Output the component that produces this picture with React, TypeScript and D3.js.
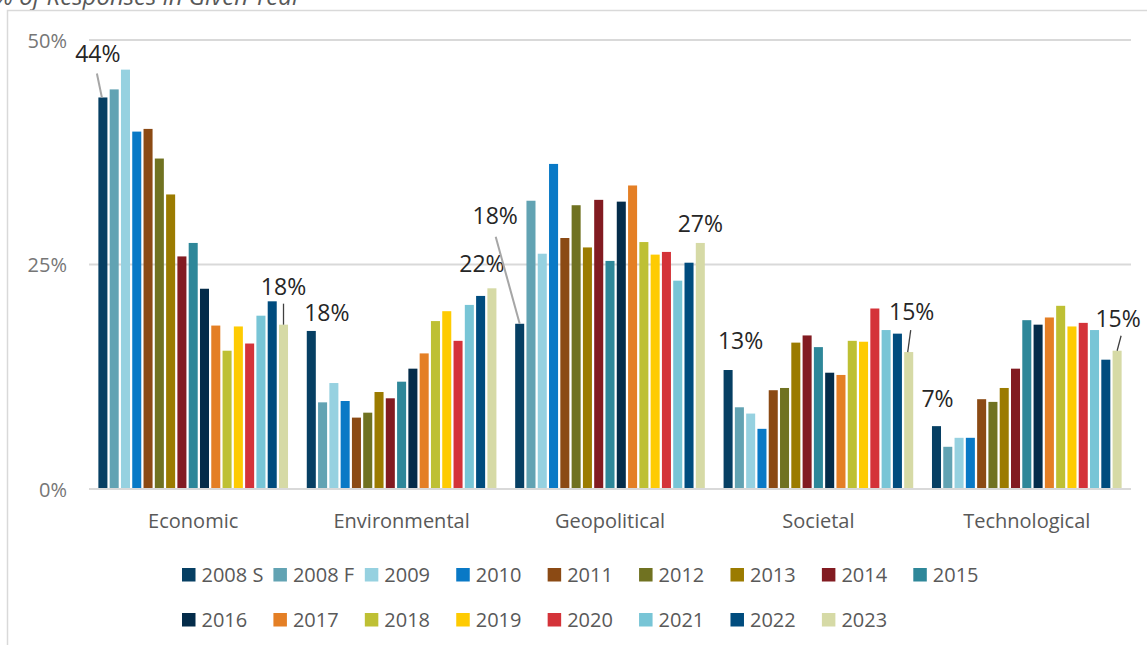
import React from "react";
import * as d3 from "d3";

const categories = ["Economic", "Environmental", "Geopolitical", "Societal", "Technological"];
const years = ["2008 S", "2008 F", "2009", "2010", "2011", "2012", "2013", "2014", "2015", "2016", "2017", "2018", "2019", "2020", "2021", "2022", "2023"];
const yearColors = ["#063F63", "#62A3B3", "#96D1E0", "#0979C6", "#8B4A14", "#707221", "#9B7B00", "#821B21", "#2E8799", "#042C4A", "#E47F25", "#BEC034", "#FECB02", "#D43339", "#78C5D6", "#004C7E", "#D6DAA6"];

const economic = [43.6, 44.5, 46.7, 39.8, 40.1, 36.8, 32.8, 25.9, 27.4, 22.3, 18.2, 15.4, 18.1, 16.2, 19.3, 20.9, 18.3];
const environmental = [17.6, 9.65, 11.8, 9.8, 7.95, 8.5, 10.8, 10.1, 11.95, 13.4, 15.1, 18.7, 19.8, 16.5, 20.5, 21.5, 22.35];
const geopolitical = [18.4, 32.1, 26.2, 36.2, 27.95, 31.6, 26.9, 32.2, 25.4, 32.0, 33.8, 27.5, 26.1, 26.4, 23.2, 25.2, 27.4];
const societal = [13.25, 9.1, 8.4, 6.7, 11.0, 11.25, 16.3, 17.1, 15.8, 12.95, 12.7, 16.5, 16.4, 20.1, 17.7, 17.3, 15.25];
const technological = [7.0, 4.7, 5.7, 5.7, 10.0, 9.7, 11.25, 13.4, 18.8, 18.3, 19.1, 20.4, 18.1, 18.5, 17.7, 14.4, 15.4];
const seriesByCategory = [economic, environmental, geopolitical, societal, technological];

const yTicks = [0, 25, 50];
const titleText = "% of Responses in Given Year";

// labelled bars: [category index, year index]
const labelled: [number, number][] = [[0, 0], [0, 16], [1, 0], [1, 16], [2, 0], [2, 16], [3, 0], [3, 16], [4, 0], [4, 16]];
// layout of the data labels (offset from bar top centre) and leader lines
const labelLayout = [
  { dx: -5, dy: -35, leader: { sx: -1, sy: 11, ex: -1, col: "#A6A6A6", w: 2 } },
  { dx: 0, dy: -30, leader: { sx: 0, sy: 9, ex: 0, col: "#404040", w: 1.3 } },
  { dx: 15.5, dy: -10, leader: null },
  { dx: -10, dy: -16, leader: null },
  { dx: -24.5, dy: -100, leader: { sx: 0.5, sy: 13, ex: 0, col: "#A6A6A6", w: 2 } },
  { dx: 0, dy: -11, leader: null },
  { dx: 12.5, dy: -21, leader: null },
  { dx: 3, dy: -32, leader: { sx: -1, sy: 10, ex: -1, col: "#404040", w: 1.3 } },
  { dx: 1, dy: -19, leader: null },
  { dx: 1, dy: -24, leader: { sx: 3, sy: 9, ex: 0, col: "#404040", w: 1.3 } },
];

const W = 1147;
const H = 645;
const FONT = "'Open Sans', sans-serif";

export default function App() {
  const x0 = d3.scaleBand<string>().domain(categories).range([89, 1131]).paddingInner(0.09).paddingOuter(0.045);
  const x1 = d3.scaleBand<string>().domain(years).range([0, x0.bandwidth()]).paddingInner(0.2).paddingOuter(0);
  const y = d3.scaleLinear().domain([0, 50]).range([489, 40]);
  const legendX = d3.scaleLinear().domain([0, 8]).range([182, 913.3]);
  const legendRowY = [568, 613];

  return (
    <svg width={W} height={H} style={{ position: "absolute", left: 0, top: 0, background: "#fff" }} fontFamily={FONT}>
      <rect x={0} y={0} width={W} height={H} fill="#fff" />
      <text x={-6} y={4.5} fontSize={24} fontStyle="italic" fill="#595959">{titleText}</text>
      <path d={`M7.5,${H + 5}V10.5H${W + 5}`} fill="none" stroke="#D9D9D9" strokeWidth={1.5} />

      {yTicks.map((t) => (
        <g key={t}>
          <line x1={89} x2={1131} y1={y(t)} y2={y(t)} stroke="#D9D9D9" strokeWidth={2} />
          <text x={67} y={y(t) + 7.5} textAnchor="end" fontSize={20} fill="#767676">{t}%</text>
        </g>
      ))}

      {categories.map((c, ci) => (
        <g key={c} transform={`translate(${x0(c)},0)`}>
          {seriesByCategory[ci].map((v, yi) => (
            <rect key={yi} x={x1(years[yi])} y={y(v)} width={x1.bandwidth()} height={y(0) - y(v)} fill={yearColors[yi]} />
          ))}
        </g>
      ))}
      <line x1={89} x2={1131} y1={y(0)} y2={y(0)} stroke="#D9D9D9" strokeWidth={2} />

      {categories.map((c) => (
        <text key={c} x={(x0(c) as number) + x0.bandwidth() / 2} y={528} textAnchor="middle" fontSize={20} fill="#595959">{c}</text>
      ))}

      {labelled.map(([ci, yi], i) => {
        const v = seriesByCategory[ci][yi];
        const bx = (x0(categories[ci]) as number) + (x1(years[yi]) as number) + x1.bandwidth() / 2;
        const by = y(v);
        const L = labelLayout[i];
        const lx = bx + L.dx;
        const ly = by + L.dy;
        return (
          <g key={i}>
            {L.leader && (
              <line x1={lx + L.leader.sx} y1={ly + L.leader.sy} x2={bx + L.leader.ex} y2={by} stroke={L.leader.col} strokeWidth={L.leader.w} />
            )}
            <text x={lx} y={ly} textAnchor="middle" fontSize={23} fill="#262626">{Math.round(v)}%</text>
          </g>
        );
      })}

      {years.map((yr, i) => {
        const row = i < 9 ? 0 : 1;
        const col = row === 0 ? i : i - 9;
        const lx = legendX(col);
        const ly = legendRowY[row];
        return (
          <g key={yr}>
            <rect x={lx} y={ly} width={13.5} height={13.5} fill={yearColors[i]} />
            <text x={lx + 19.5} y={ly + 14} fontSize={20} fill="#595959">{yr}</text>
          </g>
        );
      })}
    </svg>
  );
}
